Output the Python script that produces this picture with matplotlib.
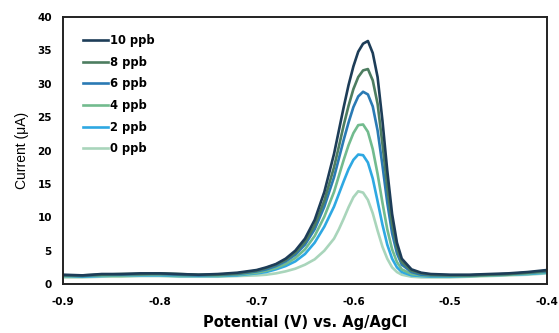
import matplotlib
matplotlib.use("Agg")
import matplotlib.pyplot as plt

# --- Data ---
potential = [-0.90, -0.88, -0.86, -0.84, -0.82, -0.80, -0.78, -0.76, -0.74, -0.72,
             -0.70, -0.69, -0.68, -0.67, -0.66, -0.65, -0.64, -0.63, -0.62, -0.615,
             -0.61, -0.605, -0.60, -0.595, -0.59, -0.585, -0.58, -0.575, -0.57, -0.565,
             -0.56, -0.555, -0.55, -0.54, -0.53, -0.52, -0.50, -0.48, -0.46, -0.44,
             -0.42, -0.40]

i_10ppb = [1.4, 1.3, 1.5, 1.5, 1.6, 1.6, 1.5, 1.4, 1.5, 1.7,
           2.1, 2.5, 3.0, 3.8, 5.0, 6.8, 9.6, 13.8, 19.5, 23.0,
           26.5, 29.8, 32.6, 34.8, 36.0, 36.4, 34.6, 31.0, 24.5, 17.0,
           10.5, 6.2, 3.8, 2.2, 1.7, 1.5, 1.4, 1.4, 1.5, 1.6,
           1.8, 2.1]
i_8ppb = [1.3, 1.3, 1.4, 1.5, 1.5, 1.6, 1.5, 1.4, 1.4, 1.6,
          2.0, 2.4, 2.9, 3.6, 4.7, 6.3, 8.8, 12.5, 17.5, 20.6,
          23.8, 26.7, 29.2, 31.0, 32.0, 32.2, 30.5, 27.0, 21.0, 14.5,
          9.0, 5.4, 3.3, 2.0, 1.6, 1.4, 1.3, 1.3, 1.4, 1.5,
          1.7, 2.0]
i_6ppb = [1.3, 1.2, 1.4, 1.4, 1.5, 1.5, 1.4, 1.3, 1.4, 1.5,
          1.9, 2.2, 2.7, 3.4, 4.4, 5.9, 8.2, 11.6, 16.0, 18.8,
          21.6, 24.2, 26.5, 28.1, 28.8, 28.4, 26.6, 23.0, 17.8, 12.2,
          7.6, 4.6, 2.9, 1.8, 1.4, 1.3, 1.3, 1.3, 1.4, 1.5,
          1.7, 1.9]
i_4ppb = [1.2, 1.2, 1.3, 1.3, 1.4, 1.4, 1.3, 1.3, 1.3, 1.4,
          1.7, 2.0, 2.4, 3.0, 3.9, 5.2, 7.2, 10.1, 13.8, 16.2,
          18.6, 20.8, 22.6, 23.8, 23.9, 22.8, 20.2, 16.5, 12.2, 8.2,
          5.2, 3.3, 2.2, 1.5, 1.3, 1.2, 1.2, 1.2, 1.3, 1.4,
          1.6, 1.8]
i_2ppb = [1.2, 1.1, 1.2, 1.3, 1.3, 1.3, 1.2, 1.2, 1.2, 1.3,
          1.6, 1.8, 2.2, 2.7, 3.4, 4.5, 6.2, 8.6, 11.6, 13.5,
          15.4, 17.2, 18.6, 19.4, 19.3, 18.2, 15.8, 12.4, 8.9, 5.9,
          3.8, 2.5, 1.8, 1.3, 1.2, 1.1, 1.1, 1.2, 1.3, 1.4,
          1.5, 1.7]
i_0ppb = [1.0, 1.0, 1.1, 1.1, 1.2, 1.2, 1.1, 1.1, 1.1, 1.2,
          1.3, 1.4, 1.6, 1.9, 2.3, 2.9, 3.7, 5.0, 6.8, 8.2,
          9.8, 11.5, 13.0, 13.9, 13.7, 12.6, 10.6, 8.0, 5.6, 3.8,
          2.5, 1.8, 1.4, 1.1, 1.0, 1.0, 1.0, 1.1, 1.2, 1.3,
          1.4, 1.6]

labels = ["10 ppb", "8 ppb", "6 ppb", "4 ppb", "2 ppb", "0 ppb"]
series = [i_10ppb, i_8ppb, i_6ppb, i_4ppb, i_2ppb, i_0ppb]
colors = ["#1d3d58", "#4d7d60", "#2a7ab4", "#72bb8e", "#2ea8e2", "#a9d5bb"]

x_ticks = [-0.9, -0.8, -0.7, -0.6, -0.5, -0.4]
x_ticklabels = ["-0.9", "-0.8", "-0.7", "-0.6", "-0.5", "-0.4"]
y_ticks = [0, 5, 10, 15, 20, 25, 30, 35, 40]

FONT = "DejaVu Sans"


def main():
    fig = plt.figure(figsize=(5.59, 3.33), dpi=100)
    ax = fig.add_axes([0.1127, 0.147, 0.8658, 0.802])

    # lowest concentration first so the darker curves sit on top
    for lab, y, c in reversed(list(zip(labels, series, colors))):
        ax.plot(potential, y, color=c, linewidth=1.9, label=lab)

    ax.set_xlim(-0.9, -0.4)
    ax.set_ylim(0, 40)
    ax.set_xticks(x_ticks)
    ax.set_xticklabels(x_ticklabels)
    ax.set_yticks(y_ticks)
    ax.tick_params(axis="y", length=0, pad=8)
    ax.tick_params(axis="x", length=0, pad=9)
    for t in ax.get_xticklabels() + ax.get_yticklabels():
        t.set_fontfamily(FONT)
        t.set_fontweight("bold")
        t.set_fontsize(7.5)

    for s in ax.spines.values():
        s.set_linewidth(1.4)
        s.set_color("#222222")

    ax.set_xlabel("Potential (V) vs. Ag/AgCl", fontfamily=FONT,
                  fontweight="bold", fontsize=10.5, labelpad=6)
    ax.set_ylabel("Current (\u03bcA)", fontfamily="Liberation Sans",
                  fontsize=10, labelpad=6)

    handles, labs = ax.get_legend_handles_labels()
    ax.legend(handles[::-1], labs[::-1], loc="upper left",
              bbox_to_anchor=(0.02, 0.975), frameon=False,
              prop={"family": FONT, "weight": "bold", "size": 8.3},
              handlelength=2.2, handletextpad=0.15, labelspacing=0.75)

    fig.savefig("out.png", dpi=100)


if __name__ == "__main__":
    main()
